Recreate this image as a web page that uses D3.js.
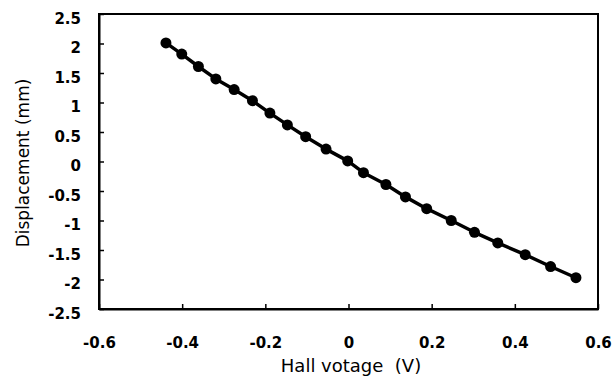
<!DOCTYPE html>
<html><head><meta charset="utf-8">
<script src="https://cdn.jsdelivr.net/npm/d3@7"></script>
<style>
body{margin:0;background:#fff}
svg{display:block}
text{font-family:"DejaVu Sans",sans-serif;fill:#000}
</style></head>
<body><svg id="c" width="612" height="389"></svg>
<script>
const hallVoltage = [-0.439,-0.401,-0.361,-0.319,-0.275,-0.231,-0.189,-0.147,-0.103,-0.054,-0.002,0.036,0.090,0.137,0.188,0.247,0.303,0.359,0.425,0.486,0.547];
const displacement = [2.01,1.82,1.61,1.40,1.22,1.03,0.82,0.62,0.42,0.21,0.01,-0.19,-0.39,-0.60,-0.80,-1.00,-1.20,-1.38,-1.58,-1.78,-1.97];
const xTicks = [-0.6,-0.4,-0.2,0,0.2,0.4,0.6];
const yTicks = [2.5,2,1.5,1,0.5,0,-0.5,-1,-1.5,-2,-2.5];
const xTitle = "Hall votage  (V)";
const yTitle = "Displacement (mm)";

const svg = d3.select("#c");
const L=99,R=598,T=14,B=309;
const x = d3.scaleLinear().domain([-0.6,0.6]).range([L,R]);
const y = d3.scaleLinear().domain([-2.5,2.5]).range([B,T]);
const fmt = d => d===0 ? "0" : (d<0 ? "-" + d3.format("")(Math.abs(d)) : d3.format("")(d));

// frame
svg.append("rect").attr("x",L).attr("y",T).attr("width",R-L).attr("height",B-T)
  .attr("fill","none").attr("stroke","#000").attr("stroke-width",2);

const ya = svg.append("g").attr("transform",`translate(${L},0)`)
  .call(d3.axisLeft(y).tickValues(yTicks).tickSize(-5).tickSizeOuter(0).tickPadding(18).tickFormat(fmt));
ya.select(".domain").attr("stroke","#000").attr("stroke-width",2);
ya.selectAll(".tick line").attr("stroke","#000").attr("stroke-width",1.5);
ya.selectAll(".tick text").attr("dy","0.62em").attr("font-size",15).attr("font-weight","bold")
  .attr("font-family","DejaVu Sans");

const xa = svg.append("g").attr("transform",`translate(0,${B})`)
  .call(d3.axisBottom(x).tickValues(xTicks).tickSize(-5).tickSizeOuter(0).tickPadding(28).tickFormat(fmt));
xa.select(".domain").attr("stroke","#000").attr("stroke-width",2);
xa.selectAll(".tick line").attr("stroke","#000").attr("stroke-width",1.5);
xa.selectAll(".tick text").attr("font-size",15).attr("font-weight","bold").attr("font-family","DejaVu Sans");

const data = hallVoltage.map((v,i)=>({x:v,y:displacement[i]}));
svg.append("path").datum(data)
  .attr("d", d3.line().x(d=>x(d.x)).y(d=>y(d.y)))
  .attr("fill","none").attr("stroke","#000").attr("stroke-width",3.5).attr("stroke-linejoin","round");
svg.append("g").selectAll("circle").data(data).join("circle")
  .attr("cx",d=>x(d.x)).attr("cy",d=>y(d.y)).attr("r",5.5).attr("fill","#000");

svg.append("text").attr("x",351).attr("y",372).attr("text-anchor","middle")
  .attr("font-size",18).style("white-space","pre").text(xTitle);
svg.append("text").attr("transform","translate(29,163) rotate(-90)").attr("text-anchor","middle")
  .attr("font-size",17).text(yTitle);
</script></body></html>
